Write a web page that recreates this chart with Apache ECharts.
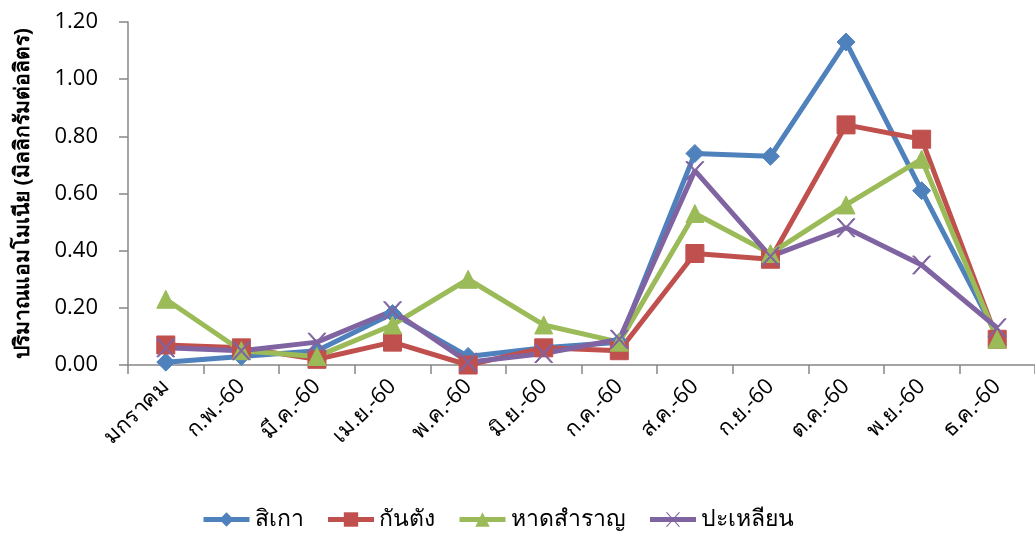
<!DOCTYPE html>
<html>
<head>
<meta charset="utf-8">
<script src="https://cdn.jsdelivr.net/npm/echarts@6/dist/echarts.min.js"></script>
<style>
  html, body { margin: 0; padding: 0; background: #fff; }
  #chart { width: 1035px; height: 536px; }
</style>
</head>
<body>
<div id="chart"></div>
<script>
// Monthly ammonia (mg/L) at four stations
const months = ['มกราคม', 'ก.พ.-60', 'มี.ค.-60', 'เม.ย.-60', 'พ.ค.-60', 'มิ.ย.-60',
                'ก.ค.-60', 'ส.ค.-60', 'ก.ย.-60', 'ต.ค.-60', 'พ.ย.-60', 'ธ.ค.-60'];
const sikao    = [0.01, 0.03, 0.05, 0.18, 0.03, 0.06, 0.08, 0.74, 0.73, 1.13, 0.61, 0.10];
const kantang  = [0.07, 0.06, 0.02, 0.08, 0.00, 0.06, 0.05, 0.39, 0.37, 0.84, 0.79, 0.09];
const hatsamran= [0.23, 0.05, 0.03, 0.14, 0.30, 0.14, 0.08, 0.53, 0.39, 0.56, 0.72, 0.09];
const palian   = [0.06, 0.05, 0.08, 0.19, 0.01, 0.04, 0.09, 0.68, 0.38, 0.48, 0.35, 0.13];
const yTitle = 'ปริมาณแอมโมเนีย (มิลลิกรัมต่อลิตร)';

const FONT = '"Open Sans", "Noto Sans", sans-serif';
const axisGray = '#868686';

function line(name, data, color, symbol, size) {
  return {
    name, type: 'line', data,
    symbol, symbolSize: size,
    lineStyle: { color, width: 5 },
    itemStyle: { color, borderColor: color },
    emphasis: { disabled: true },
    z: 2
  };
}

const chart = echarts.init(document.getElementById('chart'), null, { renderer: 'canvas' });
chart.setOption({
  animation: false,
  color: ['#4F81BD', '#C0504D', '#9BBB59', '#8064A2'],
  grid: { left: 128, right: -8, top: 22, bottom: 171, containLabel: false },
  xAxis: {
    type: 'category', data: months, boundaryGap: true,
    axisLine: { lineStyle: { color: axisGray, width: 1.5 } },
    axisTick: { show: true, length: 9, alignWithLabel: false, lineStyle: { color: axisGray, width: 1.5 } },
    axisLabel: { rotate: 45, margin: 18, fontSize: 22, color: '#000', fontFamily: FONT, interval: 0 }
  },
  yAxis: {
    type: 'value', min: 0, max: 1.2, interval: 0.2,
    name: yTitle, nameLocation: 'middle', nameGap: 94, nameRotate: 90,
    nameTextStyle: { fontSize: 21, fontWeight: 'bold', color: '#000', fontFamily: FONT },
    axisLine: { show: true, lineStyle: { color: axisGray, width: 1.5 } },
    axisTick: { show: true, length: 9, lineStyle: { color: axisGray, width: 1.5 } },
    splitLine: { show: false },
    axisLabel: { fontSize: 22, color: '#000', margin: 30, fontFamily: FONT,
                 formatter: v => v.toFixed(2) }
  },
  legend: {
    bottom: 0, left: 196, itemWidth: 46, itemHeight: 18, itemGap: 22,
    lineStyle: { width: 5 },
    textStyle: { fontSize: 23, color: '#000', fontFamily: FONT },
    data: ['สิเกา', 'กันตัง', 'หาดสำราญ', 'ปะเหลียน']
  },
  series: [
    line('สิเกา', sikao, '#4F81BD', 'diamond', 18),
    line('กันตัง', kantang, '#C0504D', 'rect', 18),
    line('หาดสำราญ', hatsamran, '#9BBB59', 'triangle', 18),
    line('ปะเหลียน', palian, '#8064A2',
         'path://M0,0 L2,0 L10,8 L18,0 L20,0 L11,9 L20,18 L18,18 L10,10 L2,18 L0,18 L9,9 Z', 18)
  ]
});
</script>
</body>
</html>
